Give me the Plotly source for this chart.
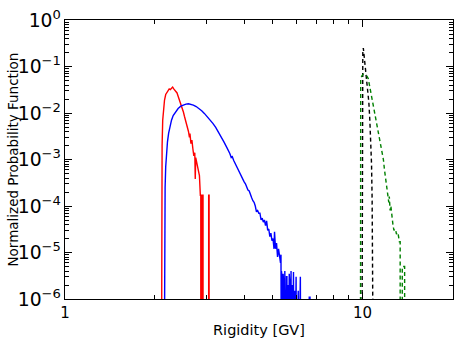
import plotly.graph_objects as go

# ---- histogram outlines (rigidity in GV, normalized probability) ----
# 1e-8 marks an empty bin, drawn below the axis floor; repeated x values give vertical edges
red_x = [2.11, 2.115, 2.12, 2.13, 2.14, 2.16, 2.18, 2.20, 2.22, 2.24, 2.26, 2.28, 2.30, 2.32,
         2.34, 2.36, 2.38, 2.40, 2.42, 2.44, 2.46, 2.48, 2.50, 2.52, 2.54, 2.56, 2.58, 2.60,
         2.62, 2.63, 2.65, 2.67, 2.69, 2.71, 2.73, 2.74, 2.75, 2.77, 2.80, 2.83, 2.85, 2.86,
         2.86, 2.875, 2.875, 2.885, 2.885, 2.90, 2.90, 2.91, 2.91, 3.04, 3.04, 3.05, 3.05]
red_y = [1e-8, 1e-4, 2e-3, 7e-3, 0.012, 0.019, 0.025, 0.028, 0.030, 0.033, 0.032, 0.035, 0.036,
         0.033, 0.031, 0.029, 0.027, 0.023, 0.020, 0.017, 0.0145, 0.012, 0.0105, 0.0085, 0.0072,
         0.0058, 0.0048, 0.0040, 0.0030, 0.0036, 0.0022, 0.0026, 0.0017, 0.0012, 0.0014, 0.00038,
         0.0011, 0.0009, 0.0007, 0.00045, 0.00017, 0.00017, 1e-8, 1e-8, 0.00017, 0.00017, 1e-8,
         1e-8, 0.00017, 0.00017, 1e-8, 1e-8, 0.00017, 0.00017, 1e-8]

blue_x = [2.155, 2.16, 2.17, 2.18, 2.19, 2.21, 2.23, 2.25, 2.28, 2.31, 2.35, 2.40, 2.45, 2.50,
          2.55, 2.60, 2.65, 2.70, 2.76, 2.82, 2.88, 2.94, 3.00, 3.07, 3.14, 3.21, 3.28, 3.35,
          3.42, 3.50, 3.54, 3.58, 3.62, 3.65, 3.69, 3.72, 3.76, 3.80, 3.84, 3.88, 3.92, 3.96,
          4.00, 4.04, 4.08, 4.12, 4.16, 4.20, 4.24, 4.28, 4.32, 4.36, 4.40, 4.44, 4.48, 4.52,
          4.56, 4.60, 4.64, 4.68, 4.72, 4.76, 4.80, 4.84, 4.88, 4.92, 4.96, 5.00, 5.04, 5.06,
          5.10, 5.14, 5.18, 5.22, 5.26, 5.30, 5.32, 5.33, 5.34, 5.37, 5.38, 5.41, 5.44, 5.45,
          5.48, 5.50, 5.52, 5.55, 5.57, 5.58, 5.62, 5.64, 5.67, 5.70, 5.71, 5.75, 5.77, 5.80,
          5.82, 5.86, 5.88, 5.92, 5.93, 5.98, 6.00, 6.08, 6.10, 6.18, 6.20, 6.60, 6.62, 6.66,
          6.68]
blue_y = [1e-8, 5e-5, 2.5e-4, 7e-4, 1.3e-3, 2.4e-3, 3.7e-3, 5.2e-3, 7e-3, 8.8e-3, 0.0105,
          0.0125, 0.014, 0.015, 0.0155, 0.0158, 0.0155, 0.0148, 0.0138, 0.0125, 0.0112, 0.0098,
          0.0085, 0.0072, 0.006, 0.0049, 0.0039, 0.0031, 0.0024, 0.0018, 0.0016, 0.00135, 0.0011,
          0.00115, 0.00095, 0.00085, 0.00078, 0.00065, 0.00058, 0.00048, 0.00045, 0.00037,
          0.00033, 0.0003, 0.00024, 0.00022, 0.00021, 0.00017, 0.00015, 0.00013, 0.00012, 0.0001,
          0.000075, 0.00008, 0.00007, 0.00007, 0.00005, 0.000055, 0.000045, 0.00005, 0.000038,
          0.000048, 0.00003, 0.000032, 0.000022, 0.000026, 0.000018, 0.00002, 0.000012, 0.000028,
          0.000012, 0.000016, 0.000008, 0.000012, 0.000007, 0.000006, 0.000009, 1e-8, 4e-6,
          2.5e-6, 1e-8, 3.5e-6, 1.5e-6, 1e-8, 4e-6, 2e-6, 1e-8, 3e-6, 3e-6, 1e-8, 2e-6, 1e-8,
          3.5e-6, 2e-6, 1e-8, 4e-6, 1e-8, 2e-6, 1e-8, 3.8e-6, 1e-8, 1.5e-6, 1e-8, 3e-6, 1e-8,
          1.5e-6, 1e-8, 3e-6, 1e-8, 1e-8, 1.1e-6, 1.1e-6, 1e-8]

black_x = [9.95, 9.96, 9.98, 10.02, 10.06, 10.12, 10.2, 10.3, 10.4, 10.5, 10.58, 10.66, 10.72,
           10.77, 10.82, 10.87]
black_y = [1e-8, 0.01, 0.08, 0.2, 0.25, 0.17, 0.1, 0.055, 0.03, 0.017, 0.007, 0.0027, 0.0008,
           0.00014, 0.00001, 1e-8]

green_x = [9.84, 9.86, 9.95, 10.05, 10.2, 10.35, 10.45, 10.55, 10.65, 10.75, 10.85, 10.95,
           11.05, 11.15, 11.25, 11.35, 11.45, 11.55, 11.65, 11.75, 11.85, 11.95, 12.05, 12.15,
           12.25, 12.3, 12.38, 12.45, 12.55, 12.65, 12.75, 12.9, 13.0, 13.15, 13.3, 13.38,
           13.38, 13.6, 13.6, 13.85, 13.85]
green_y = [1e-8, 0.055, 0.063, 0.068, 0.066, 0.062, 0.055, 0.04, 0.028, 0.02, 0.014, 0.01,
           0.0075, 0.0055, 0.004, 0.003, 0.0025, 0.0019, 0.0014, 0.001, 0.0006, 0.0004,
           0.00026, 0.0002, 0.00012, 0.00016, 0.00008, 0.0001, 0.00005, 0.00004, 0.00003,
           0.000032, 0.000025, 0.000027, 0.000017, 0.000017, 1e-8, 1e-8, 5e-6, 5e-6, 1e-8]

FONT = "DejaVu Sans, Bitstream Vera Sans, sans-serif"
ML, MR = 65, 10                      # plot margins (px)
PLOT_W = 463 - ML - MR

fig = go.Figure()
fig.add_scatter(x=red_x, y=red_y, mode="lines", line=dict(color="#ff0000", width=1.4))
fig.add_scatter(x=blue_x, y=blue_y, mode="lines", line=dict(color="#0000ff", width=1.4))
fig.add_scatter(x=black_x, y=black_y, mode="lines",
                line=dict(color="black", width=1.4, dash="4px,3px"))
fig.add_scatter(x=green_x, y=green_y, mode="lines",
                line=dict(color="#008000", width=1.4, dash="4px,3px"))

axis_common = dict(type="log", showline=True, linecolor="black", linewidth=1.2, mirror="allticks",
                   ticks="inside", ticklen=7, tickwidth=1, tickcolor="black", showgrid=False,
                   zeroline=False, automargin=False, tickfont=dict(size=15, color="black"),
                   minor=dict(ticks="inside", ticklen=3.5, tickwidth=1, tickcolor="black",
                              showgrid=False))

fig.update_xaxes(**axis_common, range=[0, 1.304], dtick=1,
                 title=dict(text="Rigidity [GV]", font=dict(size=14.5, color="black"), standoff=3))
fig.update_yaxes(**axis_common, range=[-6, 0], dtick=1, exponentformat="power",
                 labelalias={"1": "10<sup>0</sup>", "10": "10<sup>1</sup>"})

# y title as a rotated annotation so it sits where the original puts it
fig.add_annotation(text="Normalized Probability Function", textangle=-90, showarrow=False,
                   xref="paper", yref="paper", x=-(ML - 12) / PLOT_W, y=0.5,
                   xanchor="center", yanchor="middle", font=dict(size=13.5, color="black"))

fig.update_layout(width=463, height=348, showlegend=False, paper_bgcolor="white",
                  plot_bgcolor="white", font=dict(family=FONT, color="black"),
                  margin=dict(l=ML, r=MR, t=20, b=49))

# page body has a default 8px margin; drop it so the figure sits at the window origin
fig.write_html("out.html", config={"displayModeBar": False},
               post_script="document.body.style.margin='0';")
